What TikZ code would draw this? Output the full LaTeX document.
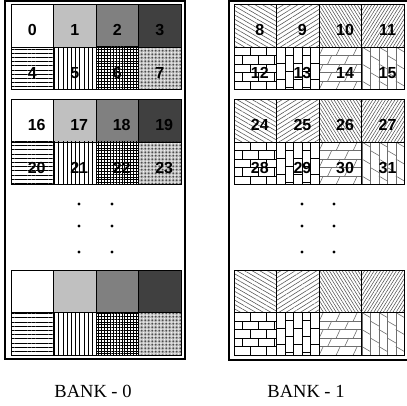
\documentclass[tikz,border=0pt]{standalone}
\usepackage{fontspec}
\setmainfont{Liberation Serif}
\newfontfamily\cellfont{Liberation Sans}
\usepackage{tikz}
\usetikzlibrary{patterns, patterns.meta}
\definecolor{LightShade}{HTML}{C0C0C0}
\definecolor{MidShade}{HTML}{808080}
\definecolor{DarkShade}{HTML}{404040}
\definecolor{HatchGray}{HTML}{505050}
\definecolor{JointGray}{HTML}{6E6E6E}

\tikzset{
  cellbox/.style={draw=black, line width=0.9pt},
  outerbox/.style={draw=black, line width=1.6pt},
  joint/.style={line width=0.7pt},
  softjoint/.style={line width=0.6pt, color=JointGray},
  numlabel/.style={font=\cellfont\bfseries\fontsize{16}{16}\selectfont, inner sep=0pt, anchor=base},
  banklabel/.style={font=\fontsize{18.5}{18.5}\selectfont, inner sep=0pt},
}

\begin{document}
\begin{tikzpicture}[x=1pt, y=-1pt]
  \clip (0,0) rectangle (407,406);

  % Bank 0 -- grey shades on top, line patterns below
  \foreach \by in {4.5, 99.5, 270} {
    \fill[LightShade] (53.5,\by) rectangle ++(42.5,42.5);
    \fill[MidShade] (96,\by) rectangle ++(42.5,42.5);
    \fill[DarkShade] (138.5,\by) rectangle ++(42.5,42.5);
    \path[pattern={Lines[distance=4.2pt, angle=0, line width=0.9pt]}] (11,{\by+42.5}) rectangle ++(42.5,42.5);
    \path[pattern={Lines[distance=4.2pt, angle=90, line width=0.9pt]}] (53.5,{\by+42.5}) rectangle ++(42.5,42.5);
    \path[pattern={Hatch[distance=2.9pt, angle=0, line width=0.6pt]}] (96,{\by+42.5}) rectangle ++(42.5,42.5);
    \path[pattern={Dots[distance=1.4pt, radius=0.5pt]}, pattern color=black!85] (138.5,{\by+42.5}) rectangle ++(42.5,42.5);
  }

  % Bank 1 -- hatching on top, bricks below
  \foreach \by in {4.5, 99.5, 270} {
    \path[pattern={Lines[distance=3.8pt, angle=-30, line width=0.55pt]}, pattern color=HatchGray] (234,\by) rectangle ++(42.6,42.5);
    \path[pattern={Lines[distance=3.8pt, angle=32, line width=0.55pt]}, pattern color=HatchGray] (276.6,\by) rectangle ++(42.6,42.5);
    \path[pattern={Lines[distance=2.7pt, angle=-58, line width=0.55pt]}, pattern color=HatchGray] (319.2,\by) rectangle ++(42.6,42.5);
    \path[pattern={Lines[distance=2.7pt, angle=58, line width=0.55pt]}, pattern color=HatchGray] (361.8,\by) rectangle ++(42.6,42.5);

    % flat bricks
    \begin{scope}
      \clip (234,{\by+42.5}) rectangle ++(42.6,42.5);
      \foreach \r [evaluate=\r as \off using {mod(\r,2)*8}] in {0,...,4} {
        \draw[joint] (234,{\by+42.5+8.5*\r}) -- ++(42.6,0);
        \foreach \c in {-1,0,1,2}
          \draw[joint] ({234+\off+16*\c},{\by+42.5+8.5*\r}) -- ++(0,8.5);
      }
    \end{scope}
    % standing bricks
    \begin{scope}
      \clip (276.6,{\by+42.5}) rectangle ++(42.6,42.5);
      \foreach \k [evaluate=\k as \off using {mod(\k,2)*8}] in {0,...,4} {
        \draw[joint] ({276.6+8.5*\k},{\by+42.5}) -- ++(0,42.5);
        \foreach \m in {-1,0,1,2}
          \draw[joint] ({276.6+8.5*\k},{\by+42.5+\off+16*\m}) -- ++(8.5,0);
      }
    \end{scope}
    % slanted bricks
    \begin{scope}
      \clip (319.2,{\by+42.5}) rectangle ++(42.6,42.5);
      \foreach \r [evaluate=\r as \off using {mod(\r,2)*8.5}] in {0,...,4} {
        \draw[softjoint] (319.2,{\by+42.5+8.5*\r}) -- ++(42.6,0);
        \foreach \c in {-1,0,1,2}
          \draw[softjoint] ({319.2+\off+17*\c},{\by+51+8.5*\r}) -- ++(4,-8.5);
      }
    \end{scope}
    % woven strips
    \begin{scope}
      \clip (361.8,{\by+42.5}) rectangle ++(42.6,42.5);
      \foreach \k [evaluate=\k as \off using {mod(\k,2)*8.5}] in {0,...,4} {
        \draw[softjoint] ({361.8+8.5*\k},{\by+42.5}) -- ++(0,42.5);
        \foreach \m in {-1,0,1,2}
          \draw[softjoint] ({361.8+8.5*\k},{\by+42.5+\off+17*\m}) -- ++(8.5,5);
      }
    \end{scope}
  }

  % Cell borders
  \foreach \bx/\cw in {11/42.5, 234/42.6}
    \foreach \by in {4.5, 99.5, 270}
      \foreach \c in {0,...,3}
        \foreach \r in {0,1}
          \draw[cellbox] ({\bx+\cw*\c},{\by+42.5*\r}) rectangle ++(\cw,42.5);

  % Bank frames
  \draw[outerbox] (5,1) rectangle (185,359);
  \draw[outerbox] (229,1) rectangle (410,360);

  % Cell numbers
  \foreach \by [count=\blk from 0] in {4.5, 99.5}
    \foreach \col in {0,...,3}
      \foreach \row in {0,1} {
        \pgfmathtruncatemacro{\numL}{16*\blk+4*\row+\col}
        \pgfmathtruncatemacro{\numR}{\numL+8}
        \pgfmathsetmacro{\shL}{ifthenelse(\numL>9,4.5,0)}
        \node[numlabel, xshift=\shL pt] (n\numL) at ({32.25+42.5*\col},{\by+42.5*(\row+1)-11}) {\numL};
        \node[numlabel, xshift=4.5pt] (n\numR) at ({255.3+42.6*\col},{\by+42.5*(\row+1)-11}) {\numR};
      }

  % Ellipsis dots
  \foreach \dx in {79, 112, 302, 334}
    \foreach \dy in {204, 226, 252}
      \fill (\dx,\dy) circle (1.6);

  % Bank captions
  \node[banklabel] (bank0) at (93,391) {BANK - 0};
  \node[banklabel] (bank1) at (306,391) {BANK - 1};
\end{tikzpicture}
\end{document}
